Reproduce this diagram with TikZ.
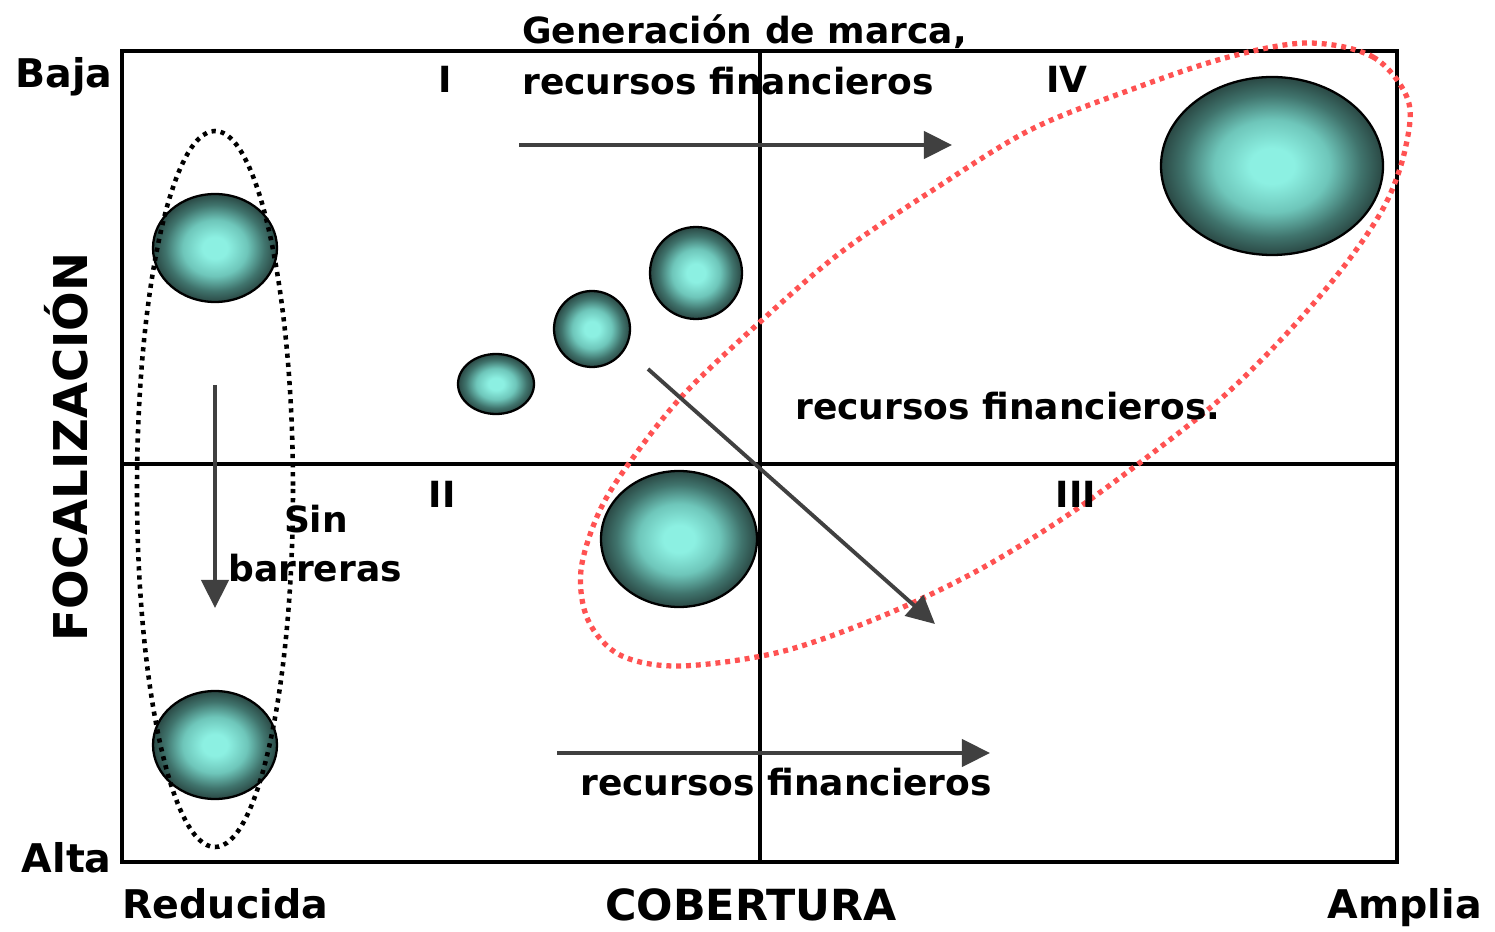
\documentclass[tikz,border=0pt]{standalone}
\usepackage{fontspec}
\setmainfont{DejaVu Sans}
\usetikzlibrary{arrows.meta}
\definecolor{bubin}{RGB}{140,240,226}
\definecolor{bubm1}{RGB}{110,198,186}
\definecolor{bubm2}{RGB}{64,116,109}
\definecolor{bubout}{RGB}{42,72,68}
\definecolor{arrgray}{RGB}{64,64,64}
\definecolor{redot}{RGB}{255,82,82}
\pgfdeclareradialshading{bubshade}{\pgfpoint{0bp}{0bp}}{color(0bp)=(bubin); color(5bp)=(bubin); color(13bp)=(bubm1); color(20bp)=(bubm2); color(25bp)=(bubout); color(50bp)=(bubout)}
\begin{document}
\begin{tikzpicture}[x=0.02cm,y=-0.02cm,
  lbl/.style={font=\fontsize{20.5}{28}\selectfont\bfseries, inner sep=0pt},
  cornl/.style={font=\fontsize{22.5}{28}\selectfont\bfseries, inner sep=0pt},
  cobl/.style={font=\fontsize{24.4}{28}\selectfont\bfseries, inner sep=0pt},
  focl/.style={font=\fontsize{26.5}{30}\selectfont\bfseries, inner sep=0pt},
  frame/.style={line width=2.3pt, draw=black},
  midline/.style={line width=2pt, draw=black},
  bubble/.style={draw=black, line width=1.3pt, shade, shading=bubshade},
  arr/.style={draw=arrgray, line width=2.2pt, -{Triangle[length=16pt,width=15.5pt]}},
  blackdot/.style={draw=black, line width=2.6pt, dash pattern=on 2.4pt off 2.8pt},
  reddot/.style={draw=redot, line width=3pt, dash pattern=on 2.8pt off 2.8pt}
]
\useasboundingbox (0,0) rectangle (1495,932);
% frame and quadrant lines
\draw[frame] (122,51) rectangle (1397,862);
\coordinate (vt) at (760,51); \coordinate (vb) at (760,862);
\coordinate (hl) at (122,464); \coordinate (hr) at (1397,464);
\draw[midline] (vt) -- (vb);
\draw[midline] (hl) -- (hr);
% bubbles
\path[bubble] (215,248) ellipse [x radius=62, y radius=54];
\path[bubble] (215,745) ellipse [x radius=62, y radius=54];
\path[bubble] (496,384) ellipse [x radius=38, y radius=30];
\path[bubble] (592,329) ellipse [x radius=38, y radius=38];
\path[bubble] (696,273) ellipse [x radius=46, y radius=46];
\path[bubble] (679,539) ellipse [x radius=78, y radius=68];
\path[bubble] (1272,166) ellipse [x radius=111, y radius=89];
% dotted ellipses
\draw[blackdot] (215,489) ellipse [x radius=78, y radius=358];
\draw[reddot] plot[smooth cycle, tension=0.55] coordinates {
 (1307,43) (1373,57) (1408,100) (1405,150) (1385,205) (1345,265)
 (1290,330) (1225,395) (1150,455) (1065,517) (975,572) (880,617) (780,652) (680,666)
 (620,655) (588,620) (581,570) (600,510) (635,455)
 (685,393) (760,322) (840,253) (933,190) (1030,130) (1130,90) (1225,58)};
% arrows
\coordinate (a1s) at (519,145); \coordinate (a1e) at (952,145);
\coordinate (a2s) at (557,753); \coordinate (a2e) at (990,753);
\coordinate (a3s) at (648,369); \coordinate (a3e) at (935,624);
\coordinate (a4s) at (215,385); \coordinate (a4e) at (215,608);
\draw[arr] (a1s) -- (a1e);
\draw[arr] (a2s) -- (a2e);
\draw[arr] (a3s) -- (a3e);
\draw[arr] (a4s) -- (a4e);
% texts
\node[lbl, anchor=base west] (gen1) at (522,44) {Generación de marca,};
\node[lbl, anchor=base west] (gen2) at (522,95) {recursos financieros};
\node[lbl, anchor=base] (q1) at (445,93) {I};
\node[lbl, anchor=base] (q4) at (1067,93) {IV};
\node[lbl, anchor=base] (q2) at (442,508) {II};
\node[lbl, anchor=base] (q3) at (1076,508) {III};
\node[lbl, anchor=base] (sin) at (316,533) {Sin};
\node[lbl, anchor=base] (barr) at (315,582) {barreras};
\node[lbl, anchor=base west] (rf1) at (795,420) {recursos financieros.};
\node[lbl, anchor=base west] (rf2) at (580,795) {recursos financieros};
\node[cornl, anchor=base east] (baja) at (113,88) {Baja};
\node[cornl, anchor=base east] (alta) at (112,872) {Alta};
\node[cornl, anchor=base west] (red) at (122,918) {Reducida};
\node[cobl, anchor=base] (cob) at (751,920) {COBERTURA};
\node[cornl, anchor=base east] (amp) at (1482,918) {Amplia};
\node[focl, rotate=90, anchor=center] (foc) at (66,447) {FOCALIZACIÓN};
\end{tikzpicture}
\end{document}
